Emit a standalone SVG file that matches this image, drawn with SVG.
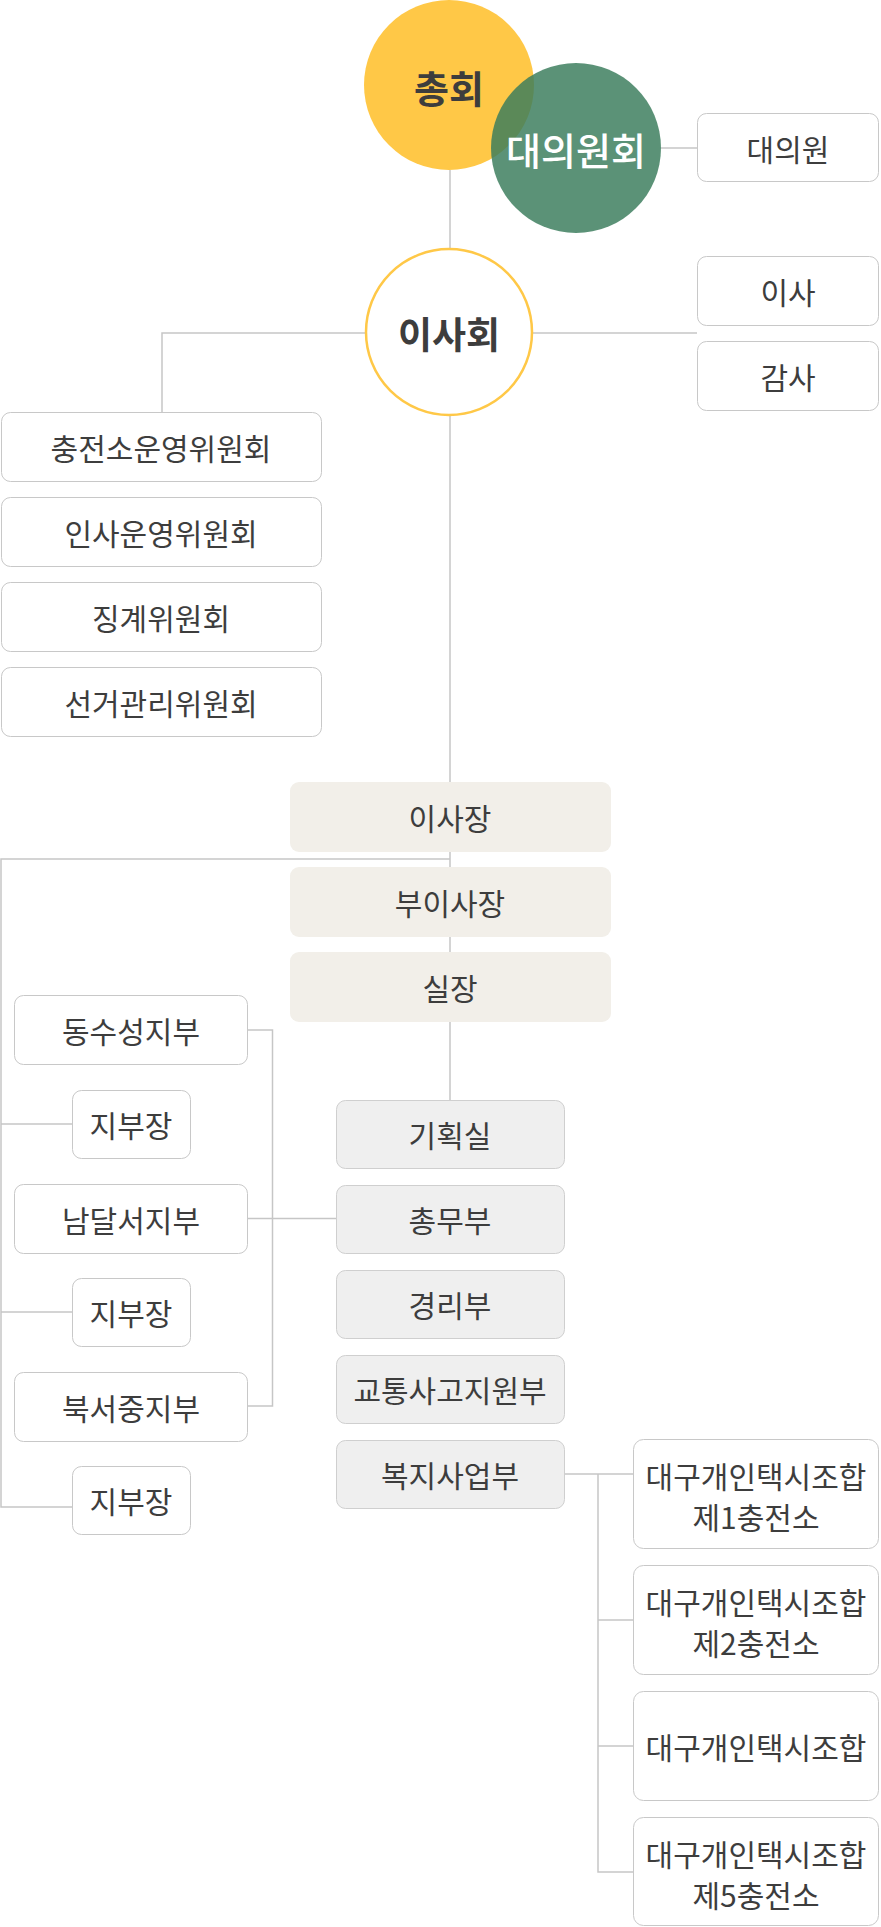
<svg xmlns="http://www.w3.org/2000/svg" width="881" height="1927" viewBox="0 0 881 1927">
<style>
text{font-family:"Noto Sans CJK KR","Noto Sans",sans-serif;text-anchor:middle;dominant-baseline:central;fill:#3d3d3d;font-size:30px}
.c{stroke:#c6c6c6;stroke-width:1.5;fill:none}
.w{fill:#fff;stroke:#c8c8c8;stroke-width:1}
.b{fill:#f2efe9}
.g{fill:#efefef;stroke:#cfcfcf;stroke-width:1}
.big{font-size:38px;font-weight:700}
</style>
<rect width="881" height="1927" fill="#fff"/>
<g id="connectors">
<path class="c" d="M450 170V1100"/>
<path class="c" d="M661 148H697"/>
<path class="c" d="M366 333H162V412"/>
<path class="c" d="M532 333H697"/>
<path class="c" d="M450 859H1V1507H72M1 1124H72M1 1312H72"/>
<path class="c" d="M248 1030H272.5V1406H248M248 1218.5H336"/>
<path class="c" d="M565 1474H633M598 1474V1872H633M598 1620H633M598 1746H633"/>
</g>
<g id="n-chonghoe"><circle cx="449" cy="85" r="85" fill="#ffc847"/><text x="449" y="86" class="big">총회</text></g>
<g id="n-daeuiwonhoe"><circle cx="576" cy="148" r="85" fill="#3a7c5c" fill-opacity="0.83"/><text x="576" y="148" style="font-size:38px;fill:#fff;font-weight:500">대의원회</text></g>
<g id="n-daeuiwon"><rect class="w" x="697.5" y="113.5" width="181" height="68" rx="9"/><text x="788" y="148">대의원</text></g>
<g id="n-isahoe"><circle cx="449" cy="332" r="83" fill="#fff" stroke="#ffc847" stroke-width="2.5"/><text x="449" y="333" class="big" style="font-size:37px">이사회</text></g>
<g id="n-isa"><rect class="w" x="697.5" y="256.5" width="181" height="69" rx="9"/><text x="788" y="291">이사</text></g>
<g id="n-gamsa"><rect class="w" x="697.5" y="341.5" width="181" height="69" rx="9"/><text x="788" y="376">감사</text></g>
<g id="n-com1"><rect class="w" x="1.5" y="412.5" width="320" height="69" rx="9"/><text x="161" y="447">충전소운영위원회</text></g>
<g id="n-com2"><rect class="w" x="1.5" y="497.5" width="320" height="69" rx="9"/><text x="161" y="532">인사운영위원회</text></g>
<g id="n-com3"><rect class="w" x="1.5" y="582.5" width="320" height="69" rx="9"/><text x="161" y="617">징계위원회</text></g>
<g id="n-com4"><rect class="w" x="1.5" y="667.5" width="320" height="69" rx="9"/><text x="161" y="702">선거관리위원회</text></g>
<g id="n-chair"><rect class="b" x="290" y="782" width="321" height="70" rx="9"/><text x="450" y="817">이사장</text></g>
<g id="n-vice"><rect class="b" x="290" y="867" width="321" height="70" rx="9"/><text x="450" y="902">부이사장</text></g>
<g id="n-chief"><rect class="b" x="290" y="952" width="321" height="70" rx="9"/><text x="450" y="987">실장</text></g>
<g id="n-br1"><rect class="w" x="14.5" y="995.5" width="233" height="69" rx="9"/><text x="131" y="1030">동수성지부</text></g>
<g id="n-br1h"><rect class="w" x="72.5" y="1090.5" width="118" height="68" rx="9"/><text x="131" y="1124">지부장</text></g>
<g id="n-br2"><rect class="w" x="14.5" y="1184.5" width="233" height="69" rx="9"/><text x="131" y="1219">남달서지부</text></g>
<g id="n-br2h"><rect class="w" x="72.5" y="1278.5" width="118" height="68" rx="9"/><text x="131" y="1312">지부장</text></g>
<g id="n-br3"><rect class="w" x="14.5" y="1372.5" width="233" height="69" rx="9"/><text x="131" y="1407">북서중지부</text></g>
<g id="n-br3h"><rect class="w" x="72.5" y="1466.5" width="118" height="68" rx="9"/><text x="131" y="1500">지부장</text></g>
<g id="n-d1"><rect class="g" x="336.5" y="1100.5" width="228" height="68" rx="9"/><text x="450" y="1134">기획실</text></g>
<g id="n-d2"><rect class="g" x="336.5" y="1185.5" width="228" height="68" rx="9"/><text x="450" y="1219">총무부</text></g>
<g id="n-d3"><rect class="g" x="336.5" y="1270.5" width="228" height="68" rx="9"/><text x="450" y="1304">경리부</text></g>
<g id="n-d4"><rect class="g" x="336.5" y="1355.5" width="228" height="68" rx="9"/><text x="450" y="1389">교통사고지원부</text></g>
<g id="n-d5"><rect class="g" x="336.5" y="1440.5" width="228" height="68" rx="9"/><text x="450" y="1474">복지사업부</text></g>
<g id="n-s1"><rect class="w" x="633.5" y="1439.5" width="245" height="109" rx="10"/><text x="756" y="1475">대구개인택시조합</text><text x="756" y="1516">제1충전소</text></g>
<g id="n-s2"><rect class="w" x="633.5" y="1565.5" width="245" height="109" rx="10"/><text x="756" y="1601">대구개인택시조합</text><text x="756" y="1642">제2충전소</text></g>
<g id="n-s3"><rect class="w" x="633.5" y="1691.5" width="245" height="109" rx="10"/><text x="756" y="1746">대구개인택시조합</text></g>
<g id="n-s4"><rect class="w" x="633.5" y="1817.5" width="245" height="108" rx="10"/><text x="756" y="1853">대구개인택시조합</text><text x="756" y="1894">제5충전소</text></g>
</svg>
